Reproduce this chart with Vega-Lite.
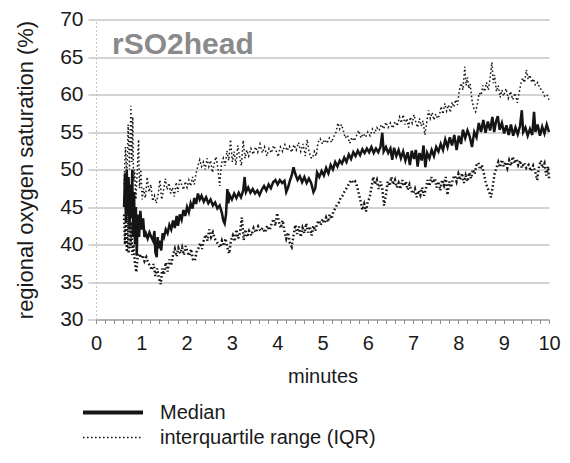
{
  "$schema": "https://vega.github.io/schema/vega-lite/v6.json",
  "width": 453,
  "height": 300,
  "autosize": "none",
  "padding": {"left": 96, "top": 19.5, "right": 21, "bottom": 143.5},
  "background": "white",
  "title": {"text": "rSO2head", "anchor": "start", "frame": "group", "orient": "top", "offset": 0, "dx": 16, "dy": 75, "baseline": "alphabetic", "fontSize": 30, "fontWeight": "bold", "color": "#8a8a8a", "font": "Liberation Sans"},
  "config": {
    "view": {"stroke": null},
    "font": "Liberation Sans",
    "legend": {"orient": "none", "direction": "vertical", "columns": 1, "legendX": 7, "legendY": 383, "symbolType": "M-3,0H3", "symbolSize": 400, "symbolStrokeColor": "#151515", "labelFontSize": 20, "labelFont": "Liberation Sans", "labelColor": "#1a1a1a", "labelOffset": 37, "rowPadding": 5, "padding": 0, "labelLimit": 400}
  },
  "datasets": {
    "median": [
      {"t":0.62,"v":45},{"t":0.64,"v":49.5},{"t":0.66,"v":43},{"t":0.68,"v":50},{"t":0.70,"v":44},{"t":0.72,"v":49},{"t":0.74,"v":42},{"t":0.76,"v":48},{"t":0.78,"v":43.5},{"t":0.80,"v":50},{"t":0.82,"v":41},{"t":0.84,"v":47},{"t":0.86,"v":40},{"t":0.88,"v":45},{"t":0.90,"v":38.5},{"t":0.92,"v":44},{"t":0.95,"v":41},{"t":0.98,"v":44.5},{"t":1.01,"v":42},{"t":1.04,"v":43.5},{"t":1.07,"v":41},{"t":1.10,"v":41.5},{"t":1.14,"v":40.8},{"t":1.18,"v":41.6},{"t":1.22,"v":41},{"t":1.26,"v":40.5},{"t":1.29,"v":41.8},{"t":1.31,"v":39},{"t":1.34,"v":38.3},{"t":1.36,"v":41},{"t":1.38,"v":39.5},{"t":1.41,"v":40.5},{"t":1.44,"v":39.2},{"t":1.47,"v":41.5},{"t":1.50,"v":41},{"t":1.54,"v":42},{"t":1.58,"v":41.5},{"t":1.62,"v":42.6},{"t":1.66,"v":42},{"t":1.70,"v":43.2},{"t":1.74,"v":42.2},{"t":1.78,"v":43.8},{"t":1.81,"v":42.5},{"t":1.85,"v":44},{"t":1.89,"v":43.3},{"t":1.93,"v":44.6},{"t":1.97,"v":43.8},{"t":2.01,"v":45},{"t":2.05,"v":44.3},{"t":2.09,"v":45.5},{"t":2.13,"v":44.8},{"t":2.17,"v":46.2},{"t":2.21,"v":45.4},{"t":2.25,"v":46.8},{"t":2.29,"v":46},{"t":2.33,"v":46.5},{"t":2.38,"v":45.7},{"t":2.43,"v":46.3},{"t":2.48,"v":45.5},{"t":2.53,"v":46},{"t":2.58,"v":45.2},{"t":2.63,"v":45.6},{"t":2.68,"v":44.8},{"t":2.73,"v":45.2},{"t":2.78,"v":44.2},{"t":2.81,"v":43.2},{"t":2.84,"v":42.8},{"t":2.87,"v":44},{"t":2.90,"v":47.4},{"t":2.92,"v":45.5},{"t":2.95,"v":46.6},{"t":3.0,"v":46},{"t":3.05,"v":46.8},{"t":3.1,"v":46.2},{"t":3.15,"v":46.9},{"t":3.2,"v":46.3},{"t":3.25,"v":47.2},{"t":3.28,"v":49},{"t":3.31,"v":47},{"t":3.36,"v":47.6},{"t":3.41,"v":46.9},{"t":3.46,"v":47.4},{"t":3.51,"v":46.8},{"t":3.56,"v":47.2},{"t":3.61,"v":46.6},{"t":3.66,"v":47.3},{"t":3.71,"v":47.8},{"t":3.76,"v":47.2},{"t":3.81,"v":48},{"t":3.86,"v":47.5},{"t":3.91,"v":48.3},{"t":3.96,"v":48.6},{"t":4.01,"v":48},{"t":4.06,"v":48.6},{"t":4.11,"v":48.2},{"t":4.16,"v":48.5},{"t":4.20,"v":47},{"t":4.24,"v":47.6},{"t":4.28,"v":48.5},{"t":4.32,"v":49.2},{"t":4.36,"v":50.3},{"t":4.40,"v":49.4},{"t":4.45,"v":48.6},{"t":4.50,"v":49.1},{"t":4.55,"v":48.3},{"t":4.60,"v":49},{"t":4.65,"v":48.2},{"t":4.70,"v":48.8},{"t":4.75,"v":48.2},{"t":4.80,"v":47},{"t":4.84,"v":47.5},{"t":4.88,"v":49.6},{"t":4.93,"v":49},{"t":4.98,"v":49.8},{"t":5.03,"v":49.2},{"t":5.08,"v":50.2},{"t":5.13,"v":49.5},{"t":5.18,"v":50.6},{"t":5.23,"v":50},{"t":5.28,"v":51},{"t":5.33,"v":50.4},{"t":5.38,"v":51.2},{"t":5.43,"v":50.8},{"t":5.48,"v":51.6},{"t":5.53,"v":51},{"t":5.58,"v":52},{"t":5.63,"v":51.4},{"t":5.68,"v":52.3},{"t":5.73,"v":51.8},{"t":5.78,"v":52.5},{"t":5.83,"v":51.9},{"t":5.88,"v":52.7},{"t":5.93,"v":52.2},{"t":5.98,"v":52.8},{"t":6.03,"v":52.3},{"t":6.08,"v":53},{"t":6.13,"v":52.2},{"t":6.18,"v":52.8},{"t":6.23,"v":52.3},{"t":6.28,"v":53},{"t":6.32,"v":54.9},{"t":6.35,"v":52.4},{"t":6.40,"v":53},{"t":6.45,"v":52.2},{"t":6.50,"v":52.8},{"t":6.54,"v":51.3},{"t":6.58,"v":52.9},{"t":6.63,"v":51.8},{"t":6.68,"v":52.6},{"t":6.73,"v":51.5},{"t":6.78,"v":52.4},{"t":6.83,"v":51.2},{"t":6.88,"v":52.3},{"t":6.93,"v":50.6},{"t":6.97,"v":52.5},{"t":7.02,"v":51.4},{"t":7.06,"v":52.6},{"t":7.10,"v":50.4},{"t":7.14,"v":52.2},{"t":7.19,"v":51.2},{"t":7.23,"v":53.2},{"t":7.27,"v":50.3},{"t":7.31,"v":52.2},{"t":7.36,"v":51.5},{"t":7.41,"v":52.6},{"t":7.46,"v":51.8},{"t":7.51,"v":53},{"t":7.56,"v":52.4},{"t":7.61,"v":53.4},{"t":7.66,"v":52.6},{"t":7.71,"v":54},{"t":7.76,"v":53},{"t":7.81,"v":54.3},{"t":7.86,"v":53.2},{"t":7.91,"v":54.6},{"t":7.96,"v":52.6},{"t":8.01,"v":54.5},{"t":8.06,"v":53.4},{"t":8.10,"v":55.3},{"t":8.15,"v":54.2},{"t":8.20,"v":55.2},{"t":8.25,"v":54.4},{"t":8.30,"v":53},{"t":8.35,"v":55},{"t":8.40,"v":54.3},{"t":8.45,"v":56.2},{"t":8.50,"v":55},{"t":8.55,"v":56.6},{"t":8.60,"v":54.9},{"t":8.65,"v":56.4},{"t":8.70,"v":55.2},{"t":8.75,"v":57},{"t":8.79,"v":55},{"t":8.83,"v":56.4},{"t":8.87,"v":57.1},{"t":8.91,"v":55.3},{"t":8.96,"v":56.2},{"t":9.01,"v":54.8},{"t":9.06,"v":55.9},{"t":9.11,"v":54.6},{"t":9.16,"v":56},{"t":9.21,"v":54.5},{"t":9.26,"v":55.6},{"t":9.31,"v":54.7},{"t":9.36,"v":55.8},{"t":9.40,"v":57.9},{"t":9.43,"v":55},{"t":9.48,"v":55.6},{"t":9.53,"v":54.5},{"t":9.58,"v":55.4},{"t":9.63,"v":54.6},{"t":9.67,"v":57.7},{"t":9.70,"v":55},{"t":9.75,"v":56},{"t":9.80,"v":54.5},{"t":9.85,"v":55.7},{"t":9.90,"v":54.8},{"t":9.95,"v":56},{"t":10.0,"v":55}
    ],
    "q3": [
      {"t":0.62,"v":48},{"t":0.65,"v":53},{"t":0.68,"v":49},{"t":0.71,"v":56},{"t":0.74,"v":50},{"t":0.77,"v":58.5},{"t":0.79,"v":51},{"t":0.81,"v":57},{"t":0.83,"v":48.5},{"t":0.85,"v":50},{"t":0.88,"v":46},{"t":0.91,"v":49.5},{"t":0.94,"v":54},{"t":0.96,"v":47.5},{"t":0.99,"v":50},{"t":1.02,"v":46},{"t":1.05,"v":47.5},{"t":1.09,"v":46.2},{"t":1.13,"v":49},{"t":1.17,"v":47},{"t":1.21,"v":48},{"t":1.25,"v":45.8},{"t":1.29,"v":46.5},{"t":1.33,"v":45.5},{"t":1.37,"v":46.6},{"t":1.41,"v":48.6},{"t":1.45,"v":46},{"t":1.49,"v":47.2},{"t":1.53,"v":48.8},{"t":1.57,"v":47.3},{"t":1.61,"v":48.2},{"t":1.65,"v":46.8},{"t":1.69,"v":47.6},{"t":1.73,"v":46.4},{"t":1.77,"v":48.3},{"t":1.81,"v":47},{"t":1.85,"v":48.8},{"t":1.89,"v":48},{"t":1.93,"v":47.3},{"t":1.97,"v":48.4},{"t":2.01,"v":47.6},{"t":2.05,"v":48.6},{"t":2.09,"v":47.8},{"t":2.13,"v":49},{"t":2.17,"v":48},{"t":2.21,"v":49.5},{"t":2.25,"v":50.5},{"t":2.29,"v":51.3},{"t":2.33,"v":50.4},{"t":2.37,"v":51},{"t":2.41,"v":50},{"t":2.45,"v":51.5},{"t":2.49,"v":50.4},{"t":2.53,"v":51.2},{"t":2.57,"v":49.6},{"t":2.61,"v":50.8},{"t":2.65,"v":51.7},{"t":2.69,"v":50.2},{"t":2.73,"v":47.8},{"t":2.77,"v":50.8},{"t":2.81,"v":51.5},{"t":2.85,"v":50.5},{"t":2.89,"v":52.5},{"t":2.93,"v":51.2},{"t":2.97,"v":54},{"t":3.01,"v":51},{"t":3.05,"v":52.4},{"t":3.09,"v":50.6},{"t":3.13,"v":53.2},{"t":3.17,"v":51.7},{"t":3.21,"v":50.5},{"t":3.25,"v":53.9},{"t":3.29,"v":51.5},{"t":3.33,"v":52.6},{"t":3.37,"v":51.8},{"t":3.42,"v":52.8},{"t":3.47,"v":52},{"t":3.52,"v":53},{"t":3.57,"v":52.3},{"t":3.62,"v":53.4},{"t":3.67,"v":52.2},{"t":3.72,"v":53},{"t":3.77,"v":51.8},{"t":3.82,"v":52.8},{"t":3.87,"v":52.2},{"t":3.92,"v":53.2},{"t":3.97,"v":52.6},{"t":4.02,"v":51.7},{"t":4.07,"v":53},{"t":4.12,"v":52.4},{"t":4.17,"v":53.3},{"t":4.22,"v":52.5},{"t":4.27,"v":53.1},{"t":4.32,"v":52.3},{"t":4.37,"v":53.3},{"t":4.42,"v":52.6},{"t":4.47,"v":53.6},{"t":4.52,"v":52.4},{"t":4.57,"v":53.4},{"t":4.62,"v":51.8},{"t":4.66,"v":54},{"t":4.70,"v":52.5},{"t":4.74,"v":51.6},{"t":4.78,"v":51.5},{"t":4.82,"v":52.4},{"t":4.86,"v":51.8},{"t":4.90,"v":53.6},{"t":4.95,"v":54.1},{"t":5.00,"v":53.4},{"t":5.05,"v":54},{"t":5.10,"v":53.5},{"t":5.15,"v":54.2},{"t":5.20,"v":53.6},{"t":5.25,"v":54.4},{"t":5.30,"v":55},{"t":5.34,"v":56.2},{"t":5.38,"v":55.4},{"t":5.42,"v":56},{"t":5.46,"v":55.2},{"t":5.50,"v":54.2},{"t":5.55,"v":54.6},{"t":5.60,"v":53.5},{"t":5.65,"v":54.3},{"t":5.70,"v":53.8},{"t":5.75,"v":54.5},{"t":5.80,"v":55.2},{"t":5.85,"v":54.2},{"t":5.90,"v":54.8},{"t":5.95,"v":54.3},{"t":6.00,"v":55},{"t":6.05,"v":54.5},{"t":6.10,"v":55.4},{"t":6.15,"v":54.8},{"t":6.20,"v":55.6},{"t":6.25,"v":55.2},{"t":6.30,"v":56},{"t":6.35,"v":55.4},{"t":6.40,"v":56.3},{"t":6.45,"v":55.6},{"t":6.50,"v":56.2},{"t":6.55,"v":55.5},{"t":6.60,"v":56.4},{"t":6.65,"v":55.8},{"t":6.70,"v":57},{"t":6.74,"v":56.2},{"t":6.78,"v":57.3},{"t":6.82,"v":56},{"t":6.86,"v":56.8},{"t":6.90,"v":55.6},{"t":6.94,"v":57},{"t":6.98,"v":56.2},{"t":7.02,"v":57.3},{"t":7.06,"v":56.3},{"t":7.10,"v":55.6},{"t":7.14,"v":56.8},{"t":7.18,"v":55.8},{"t":7.22,"v":56.5},{"t":7.26,"v":54.6},{"t":7.30,"v":56.2},{"t":7.34,"v":57.9},{"t":7.38,"v":56.8},{"t":7.42,"v":57.6},{"t":7.46,"v":56.6},{"t":7.50,"v":57.4},{"t":7.54,"v":56.8},{"t":7.58,"v":57.2},{"t":7.62,"v":58.4},{"t":7.66,"v":57.4},{"t":7.70,"v":58.8},{"t":7.74,"v":57.8},{"t":7.78,"v":58.6},{"t":7.82,"v":57.6},{"t":7.86,"v":59},{"t":7.90,"v":58.3},{"t":7.94,"v":59.3},{"t":7.98,"v":58.6},{"t":8.02,"v":60.5},{"t":8.06,"v":61.5},{"t":8.10,"v":60.6},{"t":8.14,"v":63.7},{"t":8.17,"v":61.2},{"t":8.20,"v":62.3},{"t":8.23,"v":60.8},{"t":8.26,"v":61.4},{"t":8.30,"v":59.2},{"t":8.34,"v":58.2},{"t":8.38,"v":57.7},{"t":8.42,"v":58.8},{"t":8.46,"v":60.2},{"t":8.50,"v":59.9},{"t":8.54,"v":61.2},{"t":8.58,"v":60.4},{"t":8.62,"v":61.6},{"t":8.66,"v":60.6},{"t":8.70,"v":62.2},{"t":8.74,"v":64.3},{"t":8.77,"v":61.5},{"t":8.80,"v":62.6},{"t":8.84,"v":60.4},{"t":8.88,"v":61.2},{"t":8.92,"v":59.6},{"t":8.96,"v":60.6},{"t":9.00,"v":59.8},{"t":9.05,"v":60.8},{"t":9.10,"v":59.5},{"t":9.15,"v":60.4},{"t":9.20,"v":59.3},{"t":9.25,"v":60.2},{"t":9.30,"v":58.9},{"t":9.34,"v":60.2},{"t":9.38,"v":61.5},{"t":9.42,"v":62.2},{"t":9.46,"v":61.6},{"t":9.50,"v":63.3},{"t":9.54,"v":62},{"t":9.58,"v":62.6},{"t":9.62,"v":61.6},{"t":9.66,"v":62.1},{"t":9.70,"v":61.2},{"t":9.75,"v":61.6},{"t":9.80,"v":60.8},{"t":9.85,"v":60.6},{"t":9.90,"v":59.8},{"t":9.95,"v":60},{"t":10.0,"v":59.3}
    ],
    "q1": [
      {"t":0.62,"v":44},{"t":0.64,"v":40},{"t":0.66,"v":43},{"t":0.68,"v":39},{"t":0.70,"v":44.5},{"t":0.72,"v":38.8},{"t":0.74,"v":42},{"t":0.76,"v":39.5},{"t":0.78,"v":43},{"t":0.80,"v":38.6},{"t":0.83,"v":40},{"t":0.86,"v":37.5},{"t":0.89,"v":36.3},{"t":0.92,"v":38.5},{"t":0.95,"v":38.8},{"t":0.99,"v":38.2},{"t":1.03,"v":38.6},{"t":1.07,"v":37.8},{"t":1.11,"v":38.3},{"t":1.15,"v":37.6},{"t":1.19,"v":37.2},{"t":1.23,"v":36.6},{"t":1.27,"v":37.4},{"t":1.31,"v":35.8},{"t":1.35,"v":36.8},{"t":1.39,"v":35.5},{"t":1.43,"v":34.7},{"t":1.46,"v":36.8},{"t":1.50,"v":36},{"t":1.54,"v":37.6},{"t":1.58,"v":36.4},{"t":1.62,"v":38},{"t":1.66,"v":37.2},{"t":1.70,"v":38.6},{"t":1.74,"v":39.4},{"t":1.78,"v":38.4},{"t":1.82,"v":39.5},{"t":1.86,"v":38.8},{"t":1.90,"v":39.6},{"t":1.94,"v":38.6},{"t":1.98,"v":39.8},{"t":2.02,"v":39},{"t":2.06,"v":38.5},{"t":2.10,"v":39.4},{"t":2.14,"v":38},{"t":2.18,"v":37.8},{"t":2.22,"v":39},{"t":2.26,"v":39.5},{"t":2.30,"v":40.2},{"t":2.34,"v":39.4},{"t":2.38,"v":40.6},{"t":2.42,"v":41.3},{"t":2.46,"v":40.5},{"t":2.50,"v":42},{"t":2.54,"v":41},{"t":2.58,"v":41.6},{"t":2.62,"v":40.8},{"t":2.66,"v":40.4},{"t":2.70,"v":40},{"t":2.74,"v":39.6},{"t":2.78,"v":40.5},{"t":2.82,"v":39.8},{"t":2.86,"v":40.8},{"t":2.90,"v":39.6},{"t":2.94,"v":38.8},{"t":2.98,"v":40.6},{"t":3.02,"v":41.2},{"t":3.06,"v":40.4},{"t":3.10,"v":42},{"t":3.14,"v":40.8},{"t":3.18,"v":41.6},{"t":3.22,"v":43.6},{"t":3.26,"v":40.6},{"t":3.30,"v":42},{"t":3.34,"v":41},{"t":3.38,"v":41.8},{"t":3.43,"v":41.2},{"t":3.48,"v":42.2},{"t":3.53,"v":41.6},{"t":3.58,"v":42.4},{"t":3.63,"v":41.8},{"t":3.68,"v":42.2},{"t":3.73,"v":41.6},{"t":3.78,"v":42.5},{"t":3.83,"v":41.9},{"t":3.88,"v":42.8},{"t":3.92,"v":43.4},{"t":3.96,"v":42.5},{"t":4.00,"v":44.2},{"t":4.04,"v":43},{"t":4.08,"v":42.2},{"t":4.12,"v":43.2},{"t":4.16,"v":41.8},{"t":4.20,"v":40.8},{"t":4.24,"v":41.6},{"t":4.28,"v":40.2},{"t":4.32,"v":39.7},{"t":4.36,"v":41.2},{"t":4.40,"v":42.6},{"t":4.44,"v":41.4},{"t":4.48,"v":42.4},{"t":4.52,"v":41},{"t":4.56,"v":42.2},{"t":4.60,"v":41.5},{"t":4.64,"v":42.8},{"t":4.68,"v":41.6},{"t":4.72,"v":42.4},{"t":4.76,"v":41.2},{"t":4.80,"v":42.5},{"t":4.84,"v":41.8},{"t":4.88,"v":42.8},{"t":4.92,"v":43.2},{"t":4.96,"v":42.6},{"t":5.00,"v":43.4},{"t":5.04,"v":42.8},{"t":5.08,"v":43.6},{"t":5.12,"v":43},{"t":5.16,"v":44},{"t":5.20,"v":43.4},{"t":5.24,"v":44.4},{"t":5.28,"v":44.8},{"t":5.32,"v":45.3},{"t":5.36,"v":45.6},{"t":5.40,"v":46.2},{"t":5.44,"v":46.5},{"t":5.48,"v":47},{"t":5.52,"v":47.4},{"t":5.56,"v":47.8},{"t":5.60,"v":48.3},{"t":5.64,"v":48.6},{"t":5.68,"v":48.2},{"t":5.72,"v":48.4},{"t":5.76,"v":47.8},{"t":5.80,"v":46.8},{"t":5.84,"v":45.8},{"t":5.88,"v":44.6},{"t":5.92,"v":45.4},{"t":5.96,"v":44.4},{"t":6.00,"v":45.8},{"t":6.04,"v":46.2},{"t":6.08,"v":47.6},{"t":6.12,"v":49},{"t":6.16,"v":48},{"t":6.20,"v":48.6},{"t":6.24,"v":47.4},{"t":6.28,"v":48.4},{"t":6.32,"v":47.4},{"t":6.36,"v":45.2},{"t":6.40,"v":46.6},{"t":6.44,"v":48.4},{"t":6.48,"v":47.8},{"t":6.52,"v":49},{"t":6.56,"v":48},{"t":6.60,"v":48.6},{"t":6.64,"v":47.6},{"t":6.68,"v":48.2},{"t":6.72,"v":47.4},{"t":6.76,"v":48.6},{"t":6.80,"v":47.8},{"t":6.84,"v":48.4},{"t":6.88,"v":47.3},{"t":6.92,"v":48},{"t":6.96,"v":47.2},{"t":7.00,"v":46.8},{"t":7.04,"v":47.4},{"t":7.08,"v":46.3},{"t":7.12,"v":47.2},{"t":7.16,"v":46.6},{"t":7.20,"v":47.6},{"t":7.24,"v":46.5},{"t":7.28,"v":47.4},{"t":7.32,"v":48.6},{"t":7.36,"v":47.8},{"t":7.40,"v":49},{"t":7.44,"v":48.2},{"t":7.48,"v":48.8},{"t":7.52,"v":47.6},{"t":7.56,"v":48.4},{"t":7.60,"v":47.2},{"t":7.64,"v":48.6},{"t":7.68,"v":47.9},{"t":7.72,"v":49},{"t":7.76,"v":46.6},{"t":7.80,"v":48.4},{"t":7.84,"v":47.6},{"t":7.88,"v":48.8},{"t":7.92,"v":49.2},{"t":7.96,"v":48.4},{"t":8.00,"v":49.4},{"t":8.04,"v":48.6},{"t":8.08,"v":49.5},{"t":8.12,"v":48.2},{"t":8.16,"v":49.2},{"t":8.20,"v":48.4},{"t":8.24,"v":49.6},{"t":8.28,"v":48.8},{"t":8.32,"v":50},{"t":8.36,"v":49.4},{"t":8.40,"v":50.6},{"t":8.44,"v":50.9},{"t":8.48,"v":50},{"t":8.52,"v":50.6},{"t":8.56,"v":49.5},{"t":8.60,"v":48.4},{"t":8.64,"v":47.6},{"t":8.68,"v":47},{"t":8.72,"v":46.3},{"t":8.76,"v":47.8},{"t":8.80,"v":49.5},{"t":8.84,"v":50.2},{"t":8.88,"v":51},{"t":8.92,"v":50.3},{"t":8.96,"v":51.3},{"t":9.00,"v":50.4},{"t":9.04,"v":51},{"t":9.08,"v":50.2},{"t":9.12,"v":51.2},{"t":9.16,"v":50.5},{"t":9.20,"v":51.7},{"t":9.24,"v":50.8},{"t":9.28,"v":51.4},{"t":9.32,"v":50.6},{"t":9.36,"v":51.2},{"t":9.40,"v":50.2},{"t":9.45,"v":50.9},{"t":9.50,"v":50.2},{"t":9.55,"v":50.6},{"t":9.60,"v":49.8},{"t":9.65,"v":50.5},{"t":9.70,"v":49.6},{"t":9.74,"v":48.6},{"t":9.78,"v":50.4},{"t":9.82,"v":51.2},{"t":9.86,"v":50.2},{"t":9.90,"v":50.8},{"t":9.94,"v":49.2},{"t":9.98,"v":50.4},{"t":10.0,"v":48.8}
    ]
  },
  "encoding": {
    "x": {
      "field": "t", "type": "quantitative",
      "scale": {"domain": [0, 10], "nice": false, "zero": false},
      "axis": {
        "title": "minutes",
        "values": [0,0.2,0.4,0.6,0.8,1,1.2,1.4,1.6,1.8,2,2.2,2.4,2.6,2.8,3,3.2,3.4,3.6,3.8,4,4.2,4.4,4.6,4.8,5,5.2,5.4,5.6,5.8,6,6.2,6.4,6.6,6.8,7,7.2,7.4,7.6,7.8,8,8.2,8.4,8.6,8.8,9,9.2,9.4,9.6,9.8,10],
        "labelExpr": "datum.value % 1 === 0 ? '' + datum.value : ''",
        "labelOverlap": false, "labelFlush": false, "labelBound": false,
        "grid": false, "tickSize": 4, "tickColor": "#909090", "domainColor": "#909090",
        "labelFontSize": 20, "labelPadding": 10, "labelColor": "#1a1a1a", "labelFont": "Liberation Sans",
        "titleFontSize": 20, "titleFontWeight": "normal", "titleColor": "#1a1a1a", "titleFont": "Liberation Sans", "titlePadding": 13
      }
    },
    "y": {
      "field": "v", "type": "quantitative",
      "scale": {"domain": [30, 70], "nice": false, "zero": false},
      "axis": {
        "title": "regional oxygen  saturation (%)",
        "values": [30, 35, 40, 45, 50, 55, 60, 65, 70],
        "grid": true, "gridColor": "#a8a8a8", "gridWidth": 1,
        "tickSize": 8, "tickColor": "#a8a8a8", "domainColor": "#c4c4c4", "domainDash": [2, 2],
        "labelFontSize": 21, "labelPadding": 5, "labelColor": "#1a1a1a", "labelFont": "Liberation Sans",
        "titleFontSize": 22, "titleFontWeight": "normal", "titleColor": "#1a1a1a", "titleFont": "Liberation Sans", "titlePadding": 22
      }
    }
  },
  "layer": [
    {
      "data": {"name": "q3"},
      "mark": {"type": "line", "interpolate": "linear", "color": "#151515"},
      "encoding": {
        "strokeDash": {"datum": "interquartile range (IQR)", "type": "nominal", "scale": {"domain": ["Median", "interquartile range (IQR)"], "range": [[1, 0], [1.6, 2.4]]},
          "legend": {"title": null, "encode": {"symbols": {"update": {"strokeWidth": {"signal": "datum.value === 'Median' ? 3.8 : 1.5"}}}}}},
        "strokeWidth": {"datum": "interquartile range (IQR)", "type": "nominal", "scale": {"type": "ordinal", "domain": ["Median", "interquartile range (IQR)"], "range": [3.8, 1.5]}, "legend": null}
      }
    },
    {
      "data": {"name": "q1"},
      "mark": {"type": "line", "interpolate": "linear", "color": "#151515"},
      "encoding": {
        "strokeDash": {"datum": "interquartile range (IQR)", "type": "nominal"},
        "strokeWidth": {"datum": "interquartile range (IQR)", "type": "nominal", "legend": null}
      }
    },
    {
      "data": {"name": "median"},
      "mark": {"type": "line", "interpolate": "linear", "color": "#151515"},
      "encoding": {
        "strokeDash": {"datum": "Median", "type": "nominal"},
        "strokeWidth": {"datum": "Median", "type": "nominal", "legend": null}
      }
    }
  ]
}
